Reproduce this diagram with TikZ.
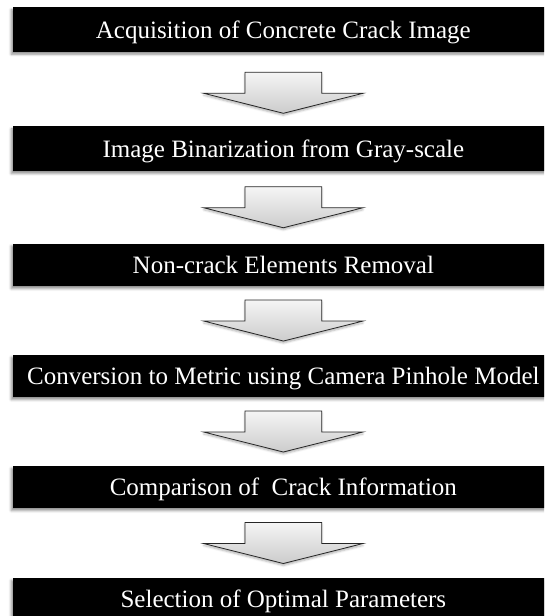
\documentclass[tikz,border=0pt]{standalone}
\usepackage{fontspec}
\setmainfont{Liberation Serif}
\usetikzlibrary{shadows.blur,calc}

\begin{document}
\begin{tikzpicture}[x=1pt,y=-1pt,
  stage/.style={fill=black, text=white, inner sep=0pt,
    minimum width=541.3pt, text height=17pt, text depth=0pt,
    font=\fontsize{25}{30}\selectfont,
    blur shadow={shadow xshift=-1.5pt, shadow yshift=-2.5pt,
      shadow blur radius=2.5pt, shadow opacity=45}},
  pics/flowarrow/.style={code={
    \draw[draw=black!85, line width=0.8pt, line join=miter,
      top color=gray!8, bottom color=gray!40,
      blur shadow={shadow xshift=0pt, shadow yshift=-2pt,
        shadow blur radius=2pt, shadow opacity=30}]
      (-38.4,-20.5) -- (38.4,-20.5) -- (38.4,0.5) -- (79.7,0.5)
      -- (0,20.5) -- (-79.7,0.5) -- (-38.4,0.5) -- cycle;
  }}
]
\clip (0,0) rectangle (544,616);

% process stages
\node[stage, minimum height=44.4pt] (b1) at (283.35,29.5)  {Acquisition of Concrete Crack Image};
\node[stage, minimum height=44.5pt] (b2) at (283.35,148.7) {Image Binarization from Gray-scale};
\node[stage, minimum height=42.5pt] (b3) at (283.35,264.8) {Non-crack Elements Removal};
\node[stage, minimum height=42pt]   (b4) at (283.35,376)   {Conversion to Metric using Camera Pinhole Model};
\node[stage, minimum height=42pt]   (b5) at (283.35,487)   {Comparison of\ \ Crack Information};
\node[stage, minimum height=42pt]   (b6) at (283.35,599)   {Selection of Optimal Parameters};

% block arrows between consecutive stages
\pic at ($(b1.south)!0.5!(b2.north)+(0,3.7)$) {flowarrow};
\pic at ($(b2.south)!0.5!(b3.north)$) {flowarrow};
\pic at ($(b3.south)!0.5!(b4.north)$) {flowarrow};
\pic at ($(b4.south)!0.5!(b5.north)$) {flowarrow};
\pic at ($(b5.south)!0.5!(b6.north)$) {flowarrow};
\end{tikzpicture}
\end{document}
